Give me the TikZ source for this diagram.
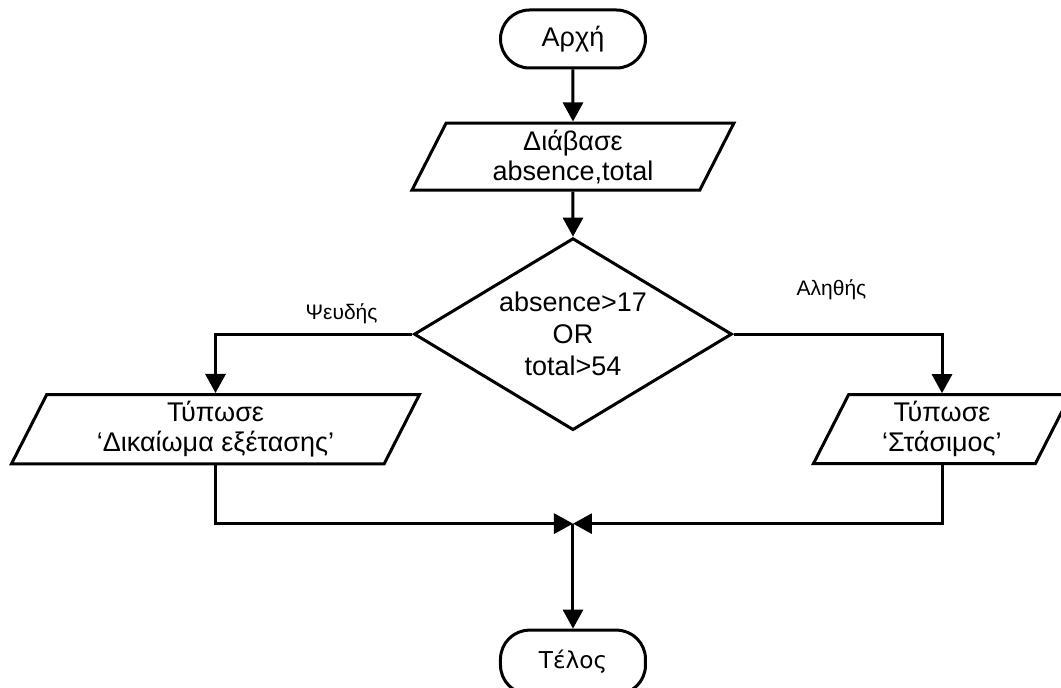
\documentclass[tikz,border=0pt]{standalone}
\usepackage{fontspec}
\setmainfont{Liberation Sans}
\newfontfamily\endfont{DejaVu Sans}
\usepackage{tikz}
\usetikzlibrary{shapes.geometric, arrows.meta, positioning}

\begin{document}
\begin{tikzpicture}[
  terminal/.style={rectangle, rounded corners=14.5pt, draw=black, line width=1.5pt, minimum width=72.5pt, minimum height=29pt, align=center, font=\fontsize{13.5}{16}\selectfont},
  io/.style={trapezium, trapezium left angle=63, trapezium right angle=117, trapezium stretches body, draw=black, line width=1.5pt, minimum height=33.5pt, align=center, font=\fontsize{13.5}{15}\selectfont},
  decision/.style={diamond, shape aspect=1.656, draw=black, line width=1.5pt, minimum width=159pt, minimum height=96pt, inner sep=0pt, align=center, font=\fontsize{13.5}{16}\selectfont},
  arrow/.style={draw, line width=1.5pt, -{Triangle[length=9.5pt, width=10pt]}},
  answer/.style={font=\fontsize{10.5}{12}\selectfont}
]
  \useasboundingbox (-286.5pt,19.5pt) rectangle (244pt,-324.5pt);

  \node [terminal] (start) {Αρχή};
  \node [io, below=26pt of start, minimum width=161pt] (read) {Διάβασε\\absence,total};
  \node [decision, below=22.5pt of read] (cond) {absence>17\\OR\\total>54};

  \node [io, minimum width=204pt] (allow) at ([xshift=-178.75pt, yshift=-47.5pt]cond.center) {Τύπωσε\\‘Δικαίωμα εξέτασης’};
  \node [io, minimum width=128.5pt] (fail) at ([xshift=184.5pt, yshift=-47.5pt]cond.center) {Τύπωσε\\‘Στάσιμος’};

  \coordinate [below=46pt of cond] (join);
  \node [terminal, below=98.5pt of cond, minimum height=32pt, font=\endfont\fontsize{11.6}{14}\selectfont] (stop) {Τέλος};

  \draw [arrow] (start) -- (read);
  \draw [arrow] (read) -- (cond);
  \draw [arrow] (cond.west) -| node[pos=0.18, above=1pt, answer]{Ψευδής} (allow);
  \draw [arrow] (cond.east) -| node[pos=0.235, above=13pt, answer]{Αληθής} (fail);
  \draw [arrow] (allow) |- (join);
  \draw [arrow] (fail) |- (join);
  \draw [arrow] (join) -- (stop);
\end{tikzpicture}
\end{document}
